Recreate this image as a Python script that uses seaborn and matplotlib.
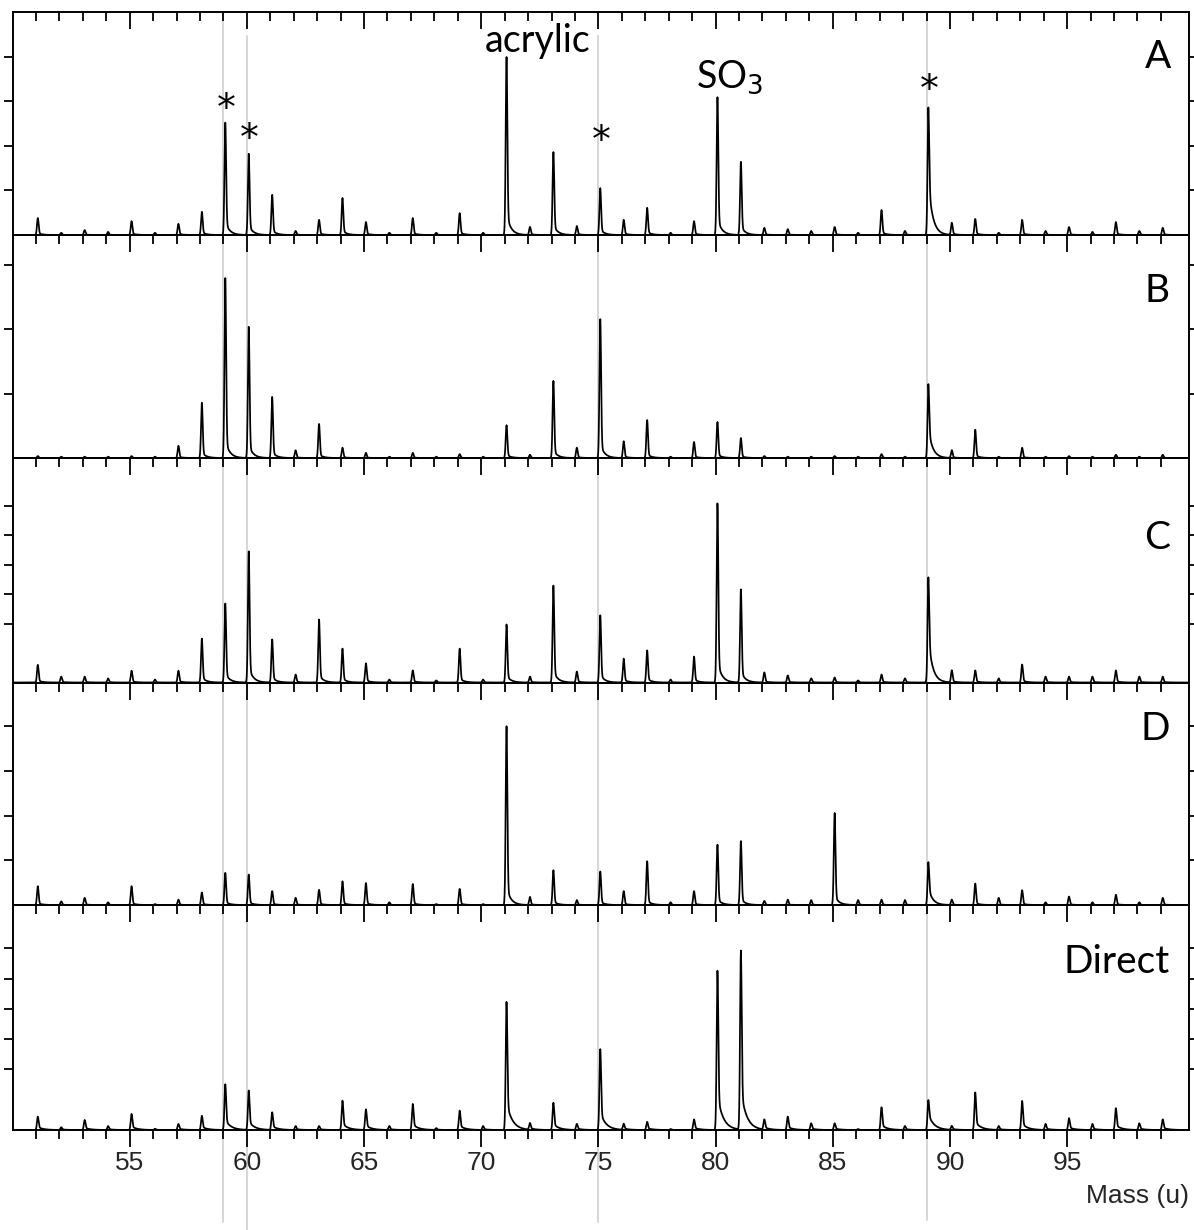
import numpy as np
import pandas as pd
import matplotlib
matplotlib.use("Agg")
import matplotlib.pyplot as plt
import seaborn as sns
from matplotlib.lines import Line2D
from matplotlib.transforms import blended_transform_factory

# ---------------- data (peak heights per nominal mass, arbitrary units) ----------
MASSES = list(range(51, 100))

PANEL_A = [0.38, 0.05, 0.11, 0.07, 0.31, 0.05, 0.25, 0.52, 2.52, 1.82,
           0.90, 0.09, 0.34, 0.83, 0.29, 0.05, 0.38, 0.05, 0.49, 0.05,
           3.99, 0.18, 1.86, 0.20, 1.05, 0.34, 0.61, 0.05, 0.31, 3.09,
           1.64, 0.16, 0.13, 0.09, 0.18, 0.05, 0.56, 0.09, 2.86, 0.27,
           0.36, 0.05, 0.34, 0.09, 0.18, 0.07, 0.29, 0.09, 0.16]
PANEL_B = [0.03, 0.02, 0.02, 0.02, 0.03, 0.02, 0.19, 0.86, 2.80, 2.04,
           0.95, 0.12, 0.53, 0.16, 0.08, 0.02, 0.08, 0.02, 0.06, 0.02,
           0.51, 0.05, 1.20, 0.16, 2.16, 0.26, 0.59, 0.02, 0.25, 0.56,
           0.31, 0.03, 0.02, 0.02, 0.03, 0.02, 0.06, 0.02, 1.15, 0.12,
           0.44, 0.02, 0.16, 0.02, 0.03, 0.02, 0.05, 0.02, 0.05]
PANEL_C = [0.60, 0.20, 0.20, 0.14, 0.40, 0.10, 0.40, 1.49, 2.68, 4.45,
           1.46, 0.27, 2.14, 1.15, 0.65, 0.10, 0.41, 0.07, 1.15, 0.10,
           1.97, 0.20, 3.29, 0.37, 2.28, 0.81, 1.09, 0.10, 0.88, 6.08,
           3.16, 0.34, 0.24, 0.14, 0.17, 0.07, 0.27, 0.14, 3.57, 0.41,
           0.41, 0.14, 0.61, 0.20, 0.20, 0.20, 0.41, 0.20, 0.20]
PANEL_D = [0.42, 0.08, 0.16, 0.06, 0.42, 0.02, 0.12, 0.28, 0.72, 0.68,
           0.31, 0.16, 0.34, 0.53, 0.49, 0.06, 0.47, 0.02, 0.36, 0.02,
           4.00, 0.18, 0.78, 0.11, 0.75, 0.31, 0.98, 0.06, 0.31, 1.35,
           1.43, 0.09, 0.12, 0.11, 2.06, 0.11, 0.12, 0.11, 0.96, 0.12,
           0.48, 0.16, 0.33, 0.06, 0.19, 0.06, 0.23, 0.06, 0.16]
PANEL_DIRECT = [0.44, 0.09, 0.33, 0.13, 0.53, 0.04, 0.20, 0.47, 1.51, 1.30,
                0.58, 0.13, 0.13, 0.97, 0.68, 0.13, 0.86, 0.06, 0.64, 0.13,
                4.23, 0.22, 0.90, 0.20, 2.67, 0.20, 0.27, 0.03, 0.35, 5.26,
                5.91, 0.33, 0.44, 0.22, 0.22, 0.03, 0.75, 0.13, 0.99, 0.13,
                1.24, 0.13, 0.96, 0.20, 0.39, 0.20, 0.72, 0.22, 0.35]

PANEL_NAMES = ["A", "B", "C", "D", "Direct"]
PANEL_DATA = [PANEL_A, PANEL_B, PANEL_C, PANEL_D, PANEL_DIRECT]
Y_MAX = [5.0, 3.47, 7.62, 4.98, 7.43]
Y_TICKS = [[1, 2, 3, 4], [1, 2, 3], [2, 3, 4, 5, 6], [1, 2, 3, 4], [2, 3, 4, 5, 6]]

REF_MASSES = [59, 60, 75, 89]
STAR_MASSES = [59, 60, 75, 89]
STAR_Y = [2.80, 2.12, 2.08, 3.22]

X_MAJOR = [55, 60, 65, 70, 75, 80, 85, 90, 95]

# ---------------- peak shape (style) ----------------
TAIL_W = [0.12, 0.10, 0.12, 0.10, 0.22]
TAIL_TAU = [0.18, 0.18, 0.18, 0.18, 0.24]
EXTRA_TAIL = {89: 0.30}
SIGMA = 0.035
PEAK_SHIFT = 0.08  # small mass-calibration offset of the recorded peaks


def spectrum(heights, tail_w, tau):
    x = np.arange(50.0, 100.2, 0.004)
    y = np.zeros_like(x)
    for m, h in zip(MASSES, heights):
        d = x - (m + PEAK_SHIFT)
        a = min(0.9, tail_w + EXTRA_TAIL.get(m, 0.0))
        g = np.exp(-0.5 * (d / SIGMA) ** 2)
        dp = np.clip(d, 0, None)
        right = (1 - a) * g + a * np.exp(-dp / tau)
        y += h * np.where(d < 0, g, right)
    return pd.DataFrame({"mass": x, "intensity": y})


sns.set_style("white")
plt.rcParams["font.family"] = ["Liberation Sans", "DejaVu Sans"]

W, H = 1194, 1230
fig = plt.figure(figsize=(W / 100, H / 100), dpi=100)
fig.patch.set_facecolor("white")

left_px, right_px = 12.5, 1189.0
bounds = [12, 235, 458, 682.5, 905, 1130]

label_pos = [(1171, 68), (1170, 302), (1170, 549), (1170, 740), (1170, 973)]

axes = []
for i, (name, heights) in enumerate(zip(PANEL_NAMES, PANEL_DATA)):
    top, bot = bounds[i], bounds[i + 1]
    ax = fig.add_axes([left_px / W, 1 - bot / H, (right_px - left_px) / W, (bot - top) / H])
    ax.set_facecolor("none")
    df = spectrum(heights, TAIL_W[i], TAIL_TAU[i])
    sns.lineplot(data=df, x="mass", y="intensity", ax=ax, color="black",
                 linewidth=1.25, estimator=None, sort=False, errorbar=None)
    ax.set_xlim(50.0, 100.2)
    ax.set_ylim(0, Y_MAX[i])
    ax.set_yticks(Y_TICKS[i])
    ax.set_yticklabels([])
    ax.set_xticks(X_MAJOR)
    ax.set_xticks(MASSES, minor=True)
    ax.set_xlabel("")
    ax.set_ylabel("")
    for s in ax.spines.values():
        s.set_color("black")
        s.set_linewidth(1.4)
    ax.tick_params(axis="y", which="both", direction="out", left=True, right=True,
                   length=6.5, width=1.3, color="black", labelleft=False, labelright=False)
    ax.tick_params(axis="x", which="major", direction="in", top=True, bottom=False,
                   length=12, width=1.3, color="black", labelbottom=False)
    ax.tick_params(axis="x", which="minor", direction="in", top=True, bottom=False,
                   length=6.5, width=1.3, color="black")
    lx, ly = label_pos[i]
    fig.text(lx / W, 1 - ly / H, name, ha="right", va="baseline",
             fontsize=28, family=["Lato", "DejaVu Sans"], color="black")
    axes.append(ax)

# bottom panel: bottom ticks outward with labels, top ticks inward
ax_last = axes[-1]
ax_last.tick_params(axis="x", which="both", direction="out", top=False, bottom=True)
ax_last.tick_params(axis="x", which="major", length=12, labelbottom=True,
                    labelsize=19, pad=3)
ax_last.tick_params(axis="x", which="minor", length=6.5)
ax_top = ax_last.secondary_xaxis("top")
ax_top.set_xticks(X_MAJOR)
ax_top.set_xticks(MASSES, minor=True)
ax_top.tick_params(axis="x", which="major", direction="in", length=12, width=1.3,
                   labeltop=False, color="black")
ax_top.tick_params(axis="x", which="minor", direction="in", length=6.5, width=1.3,
                   color="black")
ax_top.spines["top"].set_visible(False)

# annotations in panel A
axA = axes[0]
for m, yv in zip(STAR_MASSES, STAR_Y):
    axA.text(m + 0.12, yv, "*", ha="center", va="center", fontsize=27,
             family=["DejaVu Sans"], color="black")
axA.text(72.4, 4.11, "acrylic", ha="center", va="baseline", fontsize=27,
         family=["Lato", "DejaVu Sans"], color="black")
axA.text(79.18, 3.31, r"SO$_3$", ha="left", va="baseline", fontsize=27,
         family=["Lato", "DejaVu Sans"], color="black")

# reference lines spanning all panels
trans = blended_transform_factory(ax_last.transData, fig.transFigure)
ref_extent = {59: (12, 1222), 60: (36, 1230), 75: (36, 1222), 89: (12, 1220)}
for m in REF_MASSES:
    y0, y1 = ref_extent[m]
    fig.lines.append(Line2D([m, m], [1 - y1 / H, 1 - y0 / H], transform=trans,
                            color="#d6d6d6", linewidth=1.4, zorder=-1))

fig.text(1189 / W, 1 - 1203 / H, "Mass (u)", ha="right", va="baseline", fontsize=19)

fig.savefig("out.png", dpi=100, facecolor="white")
